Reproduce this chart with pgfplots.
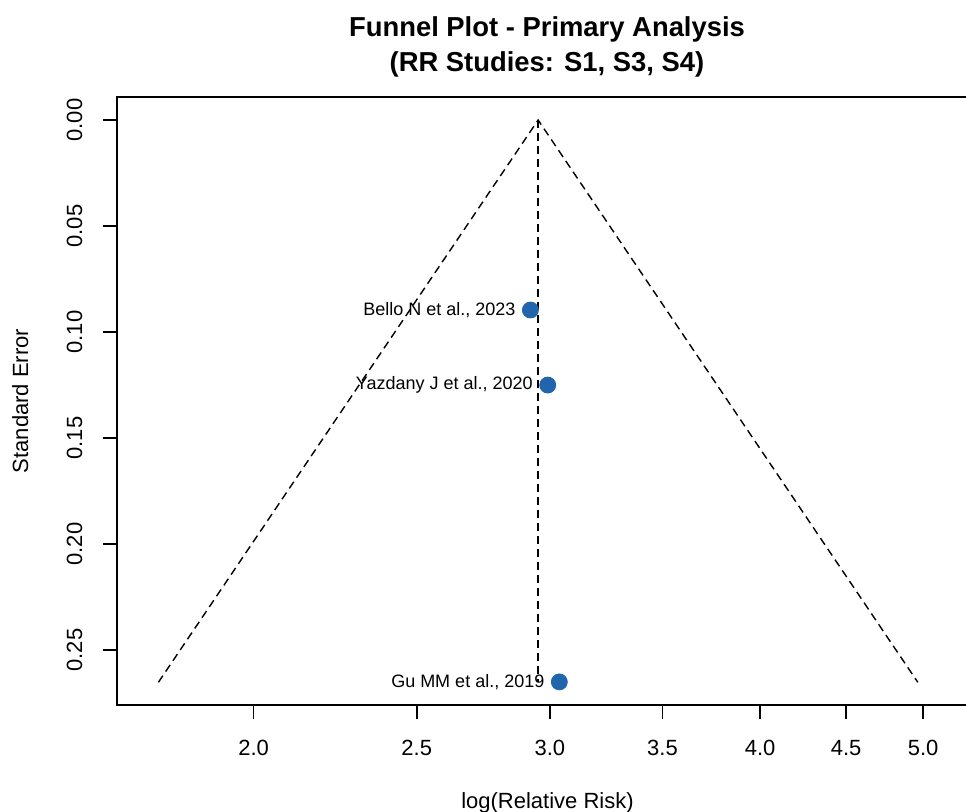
\documentclass[border=0pt]{standalone}
\usepackage{fontspec}
\setmainfont{Liberation Sans}
\usepackage{pgfplots}
\pgfplotsset{compat=1.18}
\definecolor{ptBlue}{RGB}{33,102,172}

\begin{document}
\begin{tikzpicture}
% page is 966x811 px at 0.5pt per px; the plot box runs past the right edge
\useasboundingbox (0,0) rectangle (483pt,405.5pt);
\clip (0,0) rectangle (483pt,405.5pt);
\begin{axis}[
  at={(58.5pt,53pt)}, anchor=south west,
  scale only axis, width=430pt, height=304pt,
  xmode=log,
  xmin=1.6587, xmax=5.383,
  ymin=-0.01085, ymax=0.2759,
  y dir=reverse,
  xtick={2,2.5,3,3.5,4,4.5,5},
  xticklabels={2.0,2.5,3.0,3.5,4.0,4.5,5.0},
  ytick={0,0.05,0.10,0.15,0.20,0.25},
  yticklabels={0.00,0.05,0.10,0.15,0.20,0.25},
  minor xtick={}, minor ytick={},
  xtick pos=left, ytick pos=left,
  tick align=outside,
  major tick length=7pt,
  tick style={black, line width=0.8pt},
  axis line style={black, line width=0.8pt},
  ticklabel style={font=\fontsize{11}{13}\selectfont},
  xticklabel style={anchor=base, yshift=-18pt},
  yticklabel style={rotate=90, anchor=base, yshift=10.5pt},
  clip=true,
]
% funnel (pseudo 95% limits) and centre line
\addplot[black, line width=0.7pt, dash pattern=on 4pt off 2.5pt] coordinates {
  (1.7554,0.2652) (2.952,0) (4.964,0.2652)
};
\addplot[black, line width=0.7pt, dash pattern=on 4pt off 2.5pt] coordinates {
  (2.952,0) (2.952,0.2652)
};
% studies
\addplot[only marks, mark=*, mark size=4pt, ptBlue,
  point meta=explicit symbolic,
  nodes near coords,
  every node near coord/.append style={anchor=east, inner sep=0pt,
    xshift=-7.3pt, yshift=0pt, black, font=\fontsize{9}{11}\selectfont},
] coordinates {
  (2.921,0.0896) [Bello N et al., 2023]
  (2.991,0.125) [Yazdany J et al., 2020]
  (3.039,0.265) [Gu MM et al., 2019]
};
\end{axis}
\node[anchor=base, font=\bfseries\fontsize{13.7}{16}\selectfont] at (273.5pt,387.5pt) {Funnel Plot - Primary Analysis};
\node[anchor=base, font=\bfseries\fontsize{13.7}{16}\selectfont] at (273.5pt,370pt) {(RR Studies: S1, S3, S4)};
\node[anchor=base, font=\fontsize{11}{13}\selectfont] at (273.75pt,1.5pt) {log(Relative Risk)};
\node[anchor=base, rotate=90, font=\fontsize{11}{13}\selectfont] at (14pt,205pt) {Standard Error};
\end{tikzpicture}
\end{document}
